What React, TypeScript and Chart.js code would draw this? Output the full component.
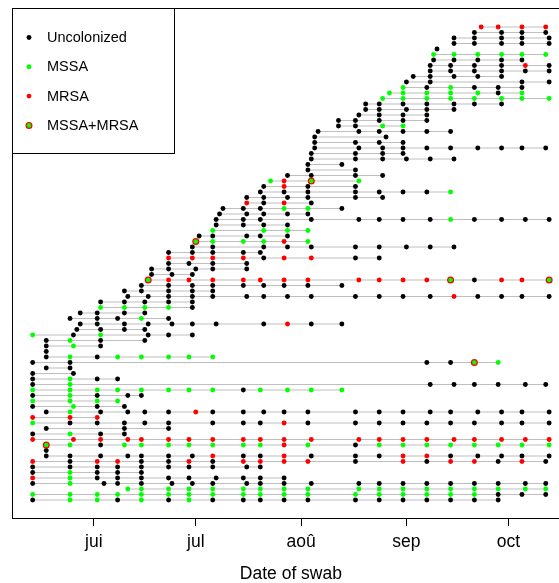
import React, { useEffect, useRef } from 'react';
import { Chart, registerables } from 'chart.js';

Chart.register(...registerables);

// x values are days counted from 1 June (negative = May)
const monthTickDays = [0, 30, 61, 92, 122];
const monthTickLabels = ['jui', 'jul', 'aoû', 'sep', 'oct'];

const statusCodes = ['u', 'g', 'r', 'b'];
const statusLabels = ['Uncolonized', 'MSSA', 'MRSA', 'MSSA+MRSA'];
const statusFill = ['#000000', '#00ff00', '#ff0000', '#00ff00'];
const statusBorder = ['#000000', '#00ff00', '#ff0000', '#ff0000'];

// one string per patient (top row first); each token = swab day + status
// (no suffix = uncolonized, g = MSSA, r = MRSA, b = MSSA+MRSA)
const swabRows = [
  '114r 119r 126r 133r',
  '112 120 126 133',
  '106 112 120 126 134',
  '106 112 120 126 134',
  '101',
  '100g 106g 113g 120g 126g 133g',
  '100 106 113 120 126',
  '99 105 112 120 127r 134',
  '99 105 112 120 127 134',
  '94 99 106 113 120',
  '92 99 126 134',
  '91g 98 105g 112 119 126',
  '87g 91g 98g 105g 113g 119 126g',
  '85g 91g 98g 105g 112g 120g 126g 134g',
  '80 84 91 98 106 112 120',
  '80 84 92 98 106',
  '78 84 91 98',
  '72 77 84 91 98',
  '72 77 85g 91g',
  '66 78 84 91 98 105',
  '65 86',
  '65 77 84 91',
  '65 78 85 91 98 105 113 120 126 133',
  '64 77 85 91',
  '64 77 85 92 99 106',
  '63 73',
  '63 77',
  '57 64 77 85',
  '52g 56r 64b 78g',
  '50 56r 63 77',
  '49 56 63 77 84 91 98 105g',
  '45 50 57 63 77 85',
  '45r 50 56r 64',
  '38 44 49 56g 63g 73',
  '37 45 50 57 63',
  '36 44 49 64 78 84 91 99 105g 112 120 127 134',
  '36 44 50 57',
  '35g 50g 57g 63g',
  '31 35 45 49 57',
  '30b 35g 44g 50g 56r 63g',
  '29 35 50 57 64 77 84 92 99 106',
  '22 29 35 44 49',
  '22r 29r 35r 44r 50 56r 64r 77 84',
  '22 28 35 45',
  '17 22 30 35 45',
  '17 23 29',
  '16b 22r 28r 35r 44r 49r 56r 63r 78r 84r 91r 98r 105b 112 120r 126r 134b',
  '14 22 29 35 44 50 56 63 73',
  '9 14 22 29 35',
  '10 16 22 29 35 45 50 57 64 77 84 91 99 106r 113 120 126 134',
  '2 9 15 22 29',
  '2g 9g 15g 22g 29',
  '-4 1 9 15',
  '-7 1 7 14g 22',
  '-4 1 9 16 23 29 36 50 57r 64 73',
  '-5 2 9 15',
  '-18g -6 2g 16 22 29',
  '-14 -7g 2 15',
  '-14 -6g 2',
  '-14',
  '-14 -7g 1 7g 14g 22g 28g 35g',
  '-18 -7 98 105 112b 119g',
  '-14 -7',
  '-18 -6',
  '-18 -7g 1 7',
  '-18 -7g 99 106 112 119 127 133',
  '-18g -7g 1g 7g 14g 22g 28g 35g 44 49g 57g 64g 73g',
  '-18 -7g 1 10 14',
  '-18g -7g 1g 7g',
  '-18 -6g 1 9',
  '-14 -7g 2 10 15 22 30r 35 44 50 56 63 77 84 91 99 105 113 120 126 134',
  '-18r -7r 1r',
  '-18g -7 1 9 15 22 35 44 49 56r 63 77 84 91 98 105 112 120 126 134',
  '-14 9 22',
  '-18 -7g 2 9',
  '-18r -6r 2r 10r 14r 22r 28r 35r 44r 49r 56r 64r 78r 84r 91r 98r 106r 112r 120r 127r 134r',
  '-14b -7g 2 9g 14g 22g 28g 35g 44g 49g 56r 63g 77 84g 91g 98g 105g 112g 119g 126g 134g',
  '-14',
  '-14 -7 2 10 14 22 29 35r 44 49 56r 64 77 84 91r 98r 105 113 120 126 134',
  '-18r -7 1r 7r 14 22 28r 35 44r 49r 56r 63r 77 91r 98 105r 112r 119 126r 133',
  '-18 -7 1 7 14 22 28 35 45 49',
  '-18 -7g 1 7 14',
  '-18r -7g 1 7 14 22 28 36 44 49 56',
  '-18 -7g 3 7 14 23 29 35 45 49 56 64 78 84 91 98 105 112 119 127 133',
  '10g 14g 22g 28g 35g 44g 49g 56g 63g 78g 84g 91g 98g 105g 112g 119g 127g 133g',
  '-18g -7g 1g 7g 14g 22g 28g 35g 44g 49g 56g 63g 77g 84g 91g 98g 105g 112g 119 126 133',
  '-18 -7g 1g 7 14g 22 28g 35 44 49 56 63 77 84 91 98 105 112 119',
];

const FONT = '"Liberation Sans", Arial, Helvetica, sans-serif';
const CANVAS_W = 575;
const CANVAS_H = 583;

type Swab = { x: number; y: number; s: string };

function parseRows(): Swab[][] {
  return swabRows.map((row, i) =>
    row.split(/\s+/).filter(Boolean).map((tok) => {
      const last = tok[tok.length - 1];
      const s = /[a-z]/.test(last) ? last : 'u';
      return { x: parseFloat(tok), y: i + 1, s };
    })
  );
}

const framePlugin = {
  id: 'frameAndKey',
  afterDatasetsDraw(chart: any) {
    const { ctx, chartArea: a } = chart;
    ctx.save();
    ctx.strokeStyle = '#000';
    ctx.lineWidth = 1;
    ctx.strokeRect(Math.round(a.left) + 0.5, Math.round(a.top) + 0.5,
      Math.round(a.right - a.left), Math.round(a.bottom - a.top) - 1);

    // key box
    const bx = Math.round(a.left) + 0.5;
    const by = Math.round(a.top) + 0.5;
    const bw = 162;
    const bh = 145;
    ctx.fillStyle = '#fff';
    ctx.fillRect(bx, by, bw, bh);
    ctx.strokeRect(bx, by, bw, bh);
    ctx.font = `14.5px ${FONT}`;
    ctx.textBaseline = 'middle';
    ctx.textAlign = 'left';
    statusLabels.forEach((lab, k) => {
      const cy = 37.5 + k * 29.3;
      const ds = chart.data.datasets[k];
      ctx.beginPath();
      ctx.arc(29, cy, ds.pointRadius, 0, Math.PI * 2);
      ctx.fillStyle = ds.pointBackgroundColor;
      ctx.fill();
      if (ds.pointBorderWidth > 0) {
        ctx.lineWidth = ds.pointBorderWidth;
        ctx.strokeStyle = ds.pointBorderColor;
        ctx.stroke();
      }
      ctx.fillStyle = '#000';
      ctx.fillText(lab, 47, cy + 0.5);
    });
    ctx.restore();
  },
};

export default function App() {
  const ref = useRef<HTMLCanvasElement | null>(null);

  useEffect(() => {
    if (!ref.current) return;
    const rows = parseRows();
    const all = rows.flat();

    const pointSets = statusCodes.map((code, k) => ({
      label: statusLabels[k],
      data: all.filter((p) => p.s === code).map((p) => ({ x: p.x, y: p.y })),
      showLine: false,
      pointRadius: k === 3 ? 2.9 : 2.45,
      pointHoverRadius: k === 3 ? 2.9 : 2.45,
      pointBackgroundColor: statusFill[k],
      pointBorderColor: statusBorder[k],
      pointBorderWidth: k === 3 ? 1.2 : 0,
      order: k === 3 ? 0 : 1,
    }));

    const lineData: { x: number; y: number }[] = [];
    rows.forEach((r) => {
      const xs = r.map((p) => p.x);
      lineData.push({ x: Math.min(...xs), y: r[0].y });
      lineData.push({ x: Math.max(...xs), y: r[0].y });
      lineData.push({ x: NaN, y: NaN });
    });

    const chart = new Chart(ref.current, {
      type: 'scatter',
      data: {
        datasets: [
          ...pointSets,
          {
            label: 'follow-up',
            data: lineData,
            showLine: true,
            spanGaps: false,
            pointRadius: 0,
            pointHoverRadius: 0,
            borderColor: '#bebebe',
            borderWidth: 1.1,
            order: 10,
          } as any,
        ],
      },
      options: {
        animation: false,
        responsive: false,
        devicePixelRatio: 1,
        events: [],
        layout: { padding: { left: 12, top: 8, right: CANVAS_W - 569.8, bottom: 0 } },
        plugins: { legend: { display: false }, tooltip: { enabled: false } },
        scales: {
          x: {
            type: 'linear',
            min: -24.08,
            max: 140.08,
            afterFit: (scale: any) => { scale.height = 64; },
            afterBuildTicks: (scale: any) => {
              scale.ticks = monthTickDays.map((v) => ({ value: v }));
            },
            ticks: {
              autoSkip: false,
              maxRotation: 0,
              padding: 5.2,
              color: '#000',
              font: { family: FONT, size: 17.5, lineHeight: 1.2 },
              callback: (v: any) => {
                const i = monthTickDays.indexOf(Number(v));
                return i >= 0 ? monthTickLabels[i] : '';
              },
            },
            grid: {
              display: true,
              drawOnChartArea: false,
              drawTicks: true,
              tickLength: 7,
              color: '#000',
              tickColor: '#000',
              lineWidth: 1,
            },
            border: { display: false },
            title: {
              display: true,
              text: 'Date of swab',
              color: '#000',
              font: { family: FONT, size: 17.5, lineHeight: 1 },
              padding: { top: 0, bottom: 0.25 },
            },
          },
          y: {
            type: 'linear',
            display: false,
            reverse: true,
            min: -2.44,
            max: 90.44,
          },
        },
      },
      plugins: [framePlugin],
    });
    return () => chart.destroy();
  }, []);

  return (
    <div style={{ position: 'absolute', left: 0, top: 0, width: 559, height: 583, overflow: 'hidden', background: '#fff' }}>
      <canvas ref={ref} width={CANVAS_W} height={CANVAS_H} style={{ width: CANVAS_W, height: CANVAS_H, display: 'block' }} />
    </div>
  );
}
